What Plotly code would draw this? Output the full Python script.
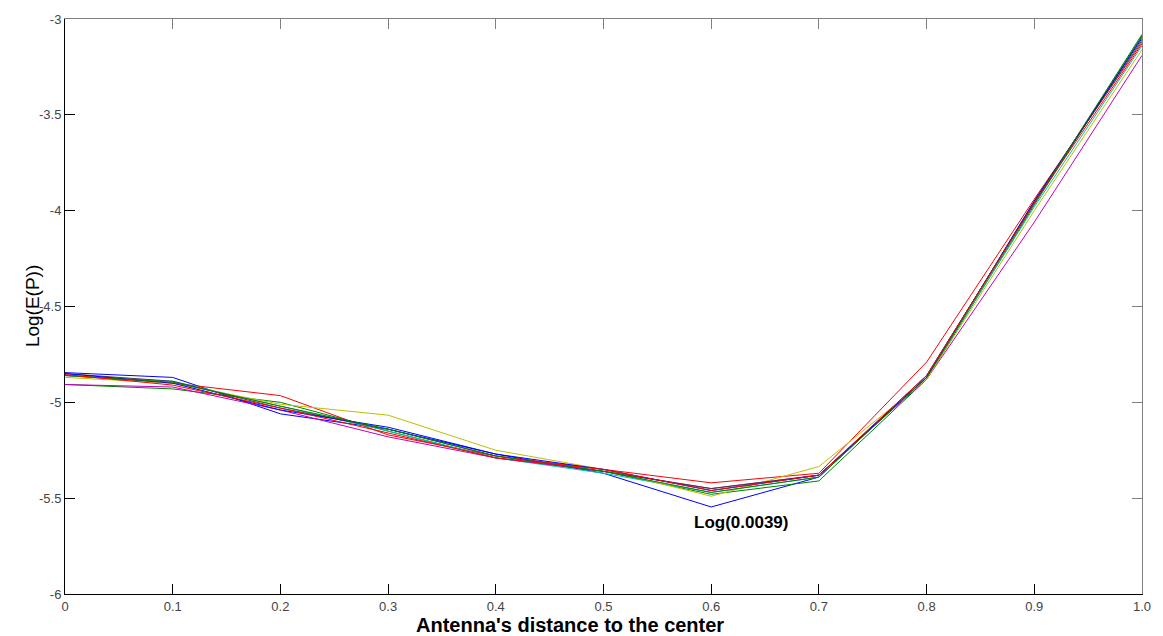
import plotly.graph_objects as go

x_vals = [0.0, 0.1, 0.2, 0.3, 0.4, 0.5, 0.6, 0.7, 0.8, 0.9, 1.0]

s_blue1 = [-4.845, -4.870, -5.060, -5.140, -5.270, -5.370, -5.546, -5.390, -4.860, -3.960, -3.090]
s_green1 = [-4.907, -4.930, -5.000, -5.150, -5.290, -5.360, -5.480, -5.410, -4.880, -3.970, -3.090]
s_red1 = [-4.860, -4.900, -4.965, -5.170, -5.280, -5.350, -5.420, -5.370, -4.790, -3.940, -3.120]
s_cyan = [-4.860, -4.890, -5.020, -5.150, -5.290, -5.370, -5.470, -5.390, -4.870, -3.980, -3.140]
s_magenta = [-4.907, -4.920, -5.040, -5.180, -5.290, -5.360, -5.450, -5.380, -4.880, -4.060, -3.190]
s_yellow = [-4.870, -4.900, -5.010, -5.067, -5.250, -5.350, -5.490, -5.335, -4.880, -4.000, -3.160]
s_black = [-4.850, -4.890, -5.030, -5.140, -5.280, -5.360, -5.450, -5.380, -4.870, -3.950, -3.110]
s_blue2 = [-4.850, -4.900, -5.040, -5.130, -5.270, -5.350, -5.460, -5.380, -4.870, -3.950, -3.100]
s_green2 = [-4.860, -4.895, -5.020, -5.140, -5.280, -5.360, -5.470, -5.390, -4.870, -3.960, -3.080]
s_red2 = [-4.855, -4.910, -5.030, -5.160, -5.290, -5.350, -5.460, -5.380, -4.860, -3.960, -3.130]

series = [s_blue1, s_green1, s_red1, s_cyan, s_magenta, s_yellow, s_black, s_blue2, s_green2, s_red2]
colors = ["#0000ff", "#008000", "#ff0000", "#00bfbf", "#bf00bf", "#bfbf00", "#404040",
          "#0000ff", "#008000", "#ff0000"]

x_ticks = [0.0, 0.1, 0.2, 0.3, 0.4, 0.5, 0.6, 0.7, 0.8, 0.9, 1.0]
x_tick_text = ["0", "0.1", "0.2", "0.3", "0.4", "0.5", "0.6", "0.7", "0.8", "0.9", "1.0"]
y_ticks = [-6, -5.5, -5, -4.5, -4, -3.5, -3]
y_tick_text = ["-6", "-5.5", "-5", "-4.5", "-4", "-3.5", "-3"]

min_label = "Log(0.0039)"
min_label_pos = (0.628, -5.625)
x_title = "Antenna's distance to the center"
y_title = "Log(E(P))"

FONT = "Arial, Liberation Sans, sans-serif"

fig = go.Figure()
for ys, c in zip(series, colors):
    fig.add_trace(go.Scatter(x=x_vals, y=ys, mode="lines",
                             line=dict(color=c, width=1), showlegend=False,
                             hoverinfo="skip"))
# invisible trace to anchor the mirrored top/right axes
fig.add_trace(go.Scatter(x=[x_vals[0]], y=[y_ticks[0]], xaxis="x2", yaxis="y2",
                         mode="markers", marker=dict(opacity=0), showlegend=False,
                         hoverinfo="skip"))

axis_common = dict(showgrid=False, zeroline=False, ticks="inside", ticklen=10,
                   tickwidth=1, linewidth=1)

fig.update_layout(
    width=1163, height=636,
    margin=dict(l=65, r=18, t=12, b=42),
    paper_bgcolor="white", plot_bgcolor="white",
    font=dict(family=FONT, size=13, color="#333333"),
    xaxis=dict(range=[0, 1], tickvals=x_ticks, ticktext=x_tick_text,
               showline=True, linecolor="black", tickcolor="black",
               tickfont=dict(size=13, color="#444444"), **axis_common),
    yaxis=dict(range=[-6, -3], tickvals=y_ticks, ticktext=y_tick_text,
               showline=True, linecolor="black", tickcolor="black",
               tickfont=dict(size=13, color="#444444"), **axis_common),
    xaxis2=dict(range=[0, 1], tickvals=x_ticks, overlaying="x", side="top",
                anchor="y", showline=True, linecolor="#808080", tickcolor="#808080",
                showticklabels=False, **axis_common),
    yaxis2=dict(range=[-6, -3], tickvals=y_ticks, overlaying="y", side="right",
                anchor="x", showline=True, linecolor="#808080", tickcolor="#808080",
                showticklabels=False, **axis_common),
    annotations=[
        dict(x=min_label_pos[0], y=min_label_pos[1], xref="x", yref="y",
             text="<b>" + min_label + "</b>", showarrow=False,
             font=dict(family=FONT, size=17, color="black")),
        dict(x=0.469, y=-0.031, xref="paper", yref="paper", yanchor="top",
             text="<b>" + x_title + "</b>", showarrow=False,
             font=dict(family=FONT, size=20, color="black")),
        dict(x=-0.0417, y=0.5, xref="paper", yref="paper", textangle=-90,
             text=y_title, showarrow=False,
             font=dict(family=FONT, size=19, color="black")),
    ],
)

fig.write_html("out.html")
